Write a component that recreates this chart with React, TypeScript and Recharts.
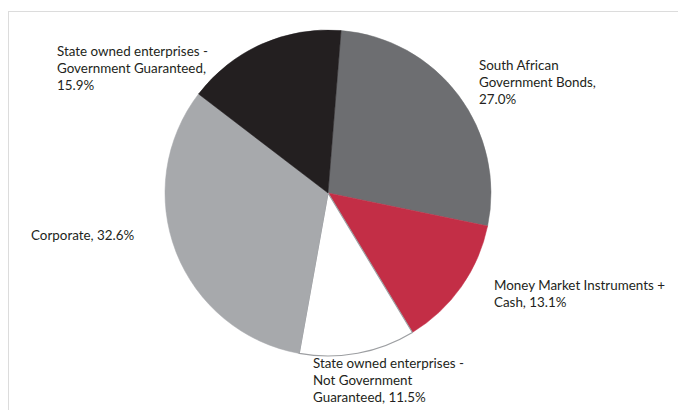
import { PieChart, Pie, Cell } from "recharts";

const categories = [
  "South African Government Bonds",
  "Money Market Instruments + Cash",
  "State owned enterprises - Not Government Guaranteed",
  "Corporate",
  "State owned enterprises - Government Guaranteed",
];
const shares = [27.0, 13.1, 11.5, 32.6, 15.9];
const labelLines = [
  ["South African", "Government Bonds,", "27.0%"],
  ["Money Market Instruments +", "Cash, 13.1%"],
  ["State owned enterprises -", "Not Government", "Guaranteed, 11.5%"],
  ["Corporate, 32.6%"],
  ["State owned enterprises -", "Government Guaranteed,", "15.9%"],
];

const fills = ["#6d6e71", "#c32e46", "#ffffff", "#a7a9ac", "#231f20"];
const strokes = ["#6d6e71", "#c32e46", "#9d9fa2", "#a7a9ac", "#231f20"];
// label block first baseline, relative to the pie centre
const labelPos = [
  { dx: 151, dy: -123.5 },
  { dx: 166, dy: 96.5 },
  { dx: -15, dy: 174.5 },
  { dx: -297, dy: 46.5 },
  { dx: -271, dy: -137.5 },
];

const data = categories.map((name, i) => ({ name, value: shares[i] }));

const W = 678;
const H = 402;

function renderLabel(props: any) {
  const { cx, cy, index } = props;
  const pos = labelPos[index];
  const lines = labelLines[index];
  return (
    <text
      x={cx + pos.dx}
      y={cy + pos.dy}
      fill="#231f20"
      fontSize={13.4}
      fontFamily="Lato, 'Open Sans', sans-serif"
      textAnchor="start"
    >
      {lines.map((l, j) => (
        <tspan key={j} x={cx + pos.dx} dy={j === 0 ? 0 : 17.3}>
          {l}
        </tspan>
      ))}
    </text>
  );
}

export default function App() {
  return (
    <div style={{ position: "relative", width: W, height: H, background: "#fff" }}>
      <div
        style={{
          position: "absolute",
          left: 0,
          top: 3,
          width: W - 1,
          height: H - 3,
          borderTop: "1px solid #dcdcdc",
          borderLeft: "1px solid #dcdcdc",
        }}
      />
      <div style={{ position: "absolute", left: 0, top: 0 }}>
        <PieChart width={W} height={H} margin={{ top: 0, right: 0, bottom: 0, left: 0 }}>
          <Pie
            data={data}
            dataKey="value"
            nameKey="name"
            cx={320}
            cy={185}
            outerRadius={163}
            innerRadius={0}
            startAngle={85.4}
            endAngle={-274.6}
            label={renderLabel}
            labelLine={false}
            isAnimationActive={false}
          >
            {data.map((d, i) => (
              <Cell key={d.name} fill={fills[i]} stroke={strokes[i]} strokeWidth={i === 2 ? 1.2 : 0.5} />
            ))}
          </Pie>
        </PieChart>
      </div>
    </div>
  );
}
